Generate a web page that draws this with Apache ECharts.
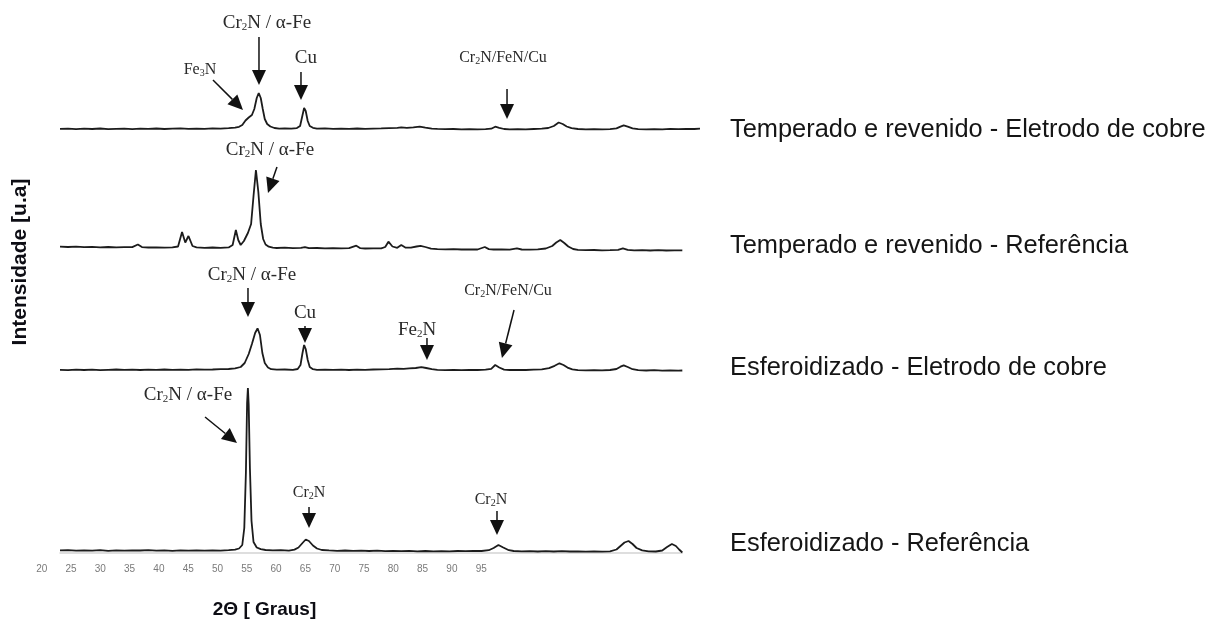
<!DOCTYPE html>
<html>
<head>
<meta charset="utf-8">
<script src="https://cdn.jsdelivr.net/npm/echarts@6/dist/echarts.min.js"></script>
<style>
html,body{margin:0;padding:0;background:#fff;}
#c{width:1215px;height:619px;}
</style>
</head>
<body>
<div id="c"></div>
<script>
// ---------------- DATA ----------------
const seriesNames = [
  'Temperado e revenido - Eletrodo de cobre',
  'Temperado e revenido - Referência',
  'Esferoidizado - Eletrodo de cobre',
  'Esferoidizado - Referência'
];
const xTickMin = 20, xTickMax = 95, xTickStep = 5;
const xTitle = '2Θ [ Graus]';
const yTitle = 'Intensidade [u.a]';

// [2θ (graus), intensidade (u.a.)]
const traceTempCobre = [[20,10.1],[21,10.4],[22,9.8],[23,10.3],[24,10.0],[25,10.5],[26,9.9],[27,10.2],[28,10.4],[29,9.9],[30,10.3],[31,10.1],[32,10.5],[33,10.0],[34,10.3],[35,10.6],[36,10.1],[37,10.4],[38,10.2],[39,10.6],[40,10.3],[41,10.8],[41.8,11.3],[42.3,12.2],[42.7,14],[43.1,18.5],[43.5,21.5],[43.9,24],[44.2,30],[44.5,41],[44.75,46],[45.0,41],[45.25,30],[45.5,20],[45.8,15],[46.2,12.5],[46.7,11],[47.3,10.4],[48,10.6],[48.8,10.3],[49.5,10.9],[49.9,13],[50.15,22],[50.4,31],[50.6,28],[50.85,18],[51.1,13],[51.5,11.2],[52,10.4],[53,10.6],[54,10.1],[55,10.4],[56,10.2],[57,10.5],[58,10.1],[59,10.4],[60,10.6],[61,10.9],[62,11.2],[62.5,11.6],[63.2,11.1],[64,11.6],[64.8,12.4],[65.5,11.4],[66.3,10.4],[67,10.1],[68,9.8],[69,10.0],[70,9.7],[71,9.9],[72,9.7],[73,9.9],[73.7,10.3],[74.2,12.3],[74.7,11.2],[75.3,10.0],[76,9.7],[77,9.9],[78,9.7],[79,10.0],[80,10.3],[80.8,11.0],[81.5,13],[82.1,16.5],[82.6,15],[83.1,12.5],[83.7,10.8],[84.5,10.0],[85.5,9.7],[86.5,9.9],[87.5,9.6],[88.5,9.9],[89.3,10.6],[89.8,12.4],[90.2,13.6],[90.7,12.4],[91.3,10.7],[92,9.9],[93,9.6],[94,9.9],[95,9.7],[96,10.1],[97,9.8],[98,10.2],[99,10.0],[99.7,10.3]];

const traceTempRef = [[20,11.3],[21,11.0],[22,11.4],[23,10.9],[24,11.1],[25,10.7],[26,11.0],[27,10.6],[28,10.8],[29,10.9],[29.7,13.5],[30.2,10.9],[31,10.5],[32,10.7],[33,10.3],[34,10.6],[34.7,11.5],[35.2,26],[35.6,15.5],[36.0,22],[36.5,12],[37,10.6],[38,10.2],[39,10.5],[40,10.1],[41,10.6],[41.5,13],[41.9,28],[42.2,18],[42.5,13],[42.9,17],[43.4,25],[43.8,34],[44.1,62],[44.4,88],[44.7,66],[45.0,34],[45.3,19],[45.6,13.5],[46.0,11.3],[46.5,10.4],[47,10.0],[48,10.3],[49,9.9],[50,10.1],[50.5,10.8],[51,9.8],[52,10.0],[53,9.7],[54,9.9],[55,9.6],[56,9.8],[56.9,12.3],[57.4,9.8],[58,9.5],[59,9.7],[60,9.6],[60.5,11],[60.9,16.3],[61.4,11.5],[62,10.2],[62.5,13],[63,10.5],[63.7,10.4],[64.4,11.5],[64.9,12.2],[65.5,11.0],[66.2,9.3],[67,8.8],[68,8.6],[69,8.8],[70,8.5],[71,8.7],[72,8.5],[72.9,11],[73.4,8.9],[74,8.5],[75,8.7],[76,8.4],[76.9,9.6],[77.5,8.5],[78.5,8.3],[79.5,8.6],[80.5,9.5],[81.3,12],[81.8,15.5],[82.3,18],[82.8,15],[83.3,11.5],[83.9,9.0],[84.5,8.1],[85.5,7.8],[86.5,8.0],[87.5,7.7],[88.5,7.9],[89.5,8.2],[90.1,9.6],[90.7,8.2],[91.5,7.6],[92.5,7.9],[93.5,7.5],[94.5,7.8],[95.5,7.5],[96.5,7.7],[97.5,7.6]];

const traceEsfCobre = [[20,10.2],[21,9.9],[22,10.3],[23,10.0],[24,10.4],[25,9.9],[26,10.2],[27,10.5],[28,10.1],[29,10.3],[30,10.0],[31,10.4],[32,10.2],[33,10.5],[34,10.1],[35,10.4],[36,10.2],[37,10.6],[38,10.3],[39,10.5],[40,10.8],[41,11.0],[41.8,11.6],[42.5,13],[43.0,17],[43.5,26],[43.9,36],[44.3,47],[44.6,51.7],[44.9,45],[45.2,27],[45.5,17],[45.9,12.5],[46.3,10.8],[47,10.3],[48,10.5],[49,10.2],[49.6,11],[49.95,15],[50.2,27],[50.4,35],[50.6,31],[50.85,20],[51.1,13],[51.5,10.8],[52,10.2],[53,10.4],[54,10.1],[55,10.3],[56,10.0],[57,10.4],[58,10.2],[59,10.5],[60,10.7],[61,10.9],[62,11.3],[62.8,11.1],[63.5,11.6],[64.3,12.0],[65.0,12.8],[65.6,12.0],[66.3,10.9],[67,10.2],[68,9.9],[69,10.1],[70,9.8],[71,10.2],[72,10.0],[73,10.3],[73.7,11.2],[74.2,15],[74.7,12.5],[75.3,10.4],[76,10.0],[77,10.2],[78,10.0],[79,10.4],[80,10.6],[80.9,11.8],[81.6,14.2],[82.2,16.7],[82.7,15],[83.2,12.4],[83.8,10.6],[84.5,9.9],[85.5,9.6],[86.5,9.9],[87.5,9.7],[88.5,10.0],[89.3,11],[89.8,13.3],[90.2,14.7],[90.7,13],[91.3,10.8],[92,9.8],[93,9.5],[94,9.8],[95,9.4],[96,9.7],[97,9.3],[97.5,9.5]];

const traceEsfRef = [[20,2.6],[21,2.9],[22,2.3],[23,2.7],[24,2.4],[25,2.8],[26,2.2],[27,2.6],[28,2.3],[29,2.7],[30,2.5],[31,2.8],[32,2.4],[33,2.6],[34,2.2],[35,2.6],[36,2.3],[37,2.7],[38,2.4],[39,2.6],[40,2.3],[41,2.8],[41.8,3.3],[42.3,4.5],[42.7,8],[42.95,25],[43.15,80],[43.3,150],[43.4,165],[43.5,148],[43.65,85],[43.85,32],[44.1,11],[44.5,5.5],[45,3.8],[45.6,3.0],[46.5,2.6],[47.5,2.8],[48.5,2.4],[49.2,3.4],[49.7,5.5],[50.2,10],[50.6,13.5],[51.0,12],[51.5,7.5],[52.0,4.5],[52.6,3.0],[53.5,2.6],[54.5,2.2],[55.5,2.5],[56.5,2.1],[57.5,2.4],[58.5,2.0],[59.5,2.3],[60.5,1.9],[61.5,2.2],[62.5,1.8],[63.5,2.1],[64.5,1.7],[65.5,2.0],[66.5,1.6],[67.5,1.9],[68.5,1.7],[69.5,2.0],[70.5,1.8],[71.5,2.1],[72.5,2.0],[73.4,2.8],[74.0,5],[74.6,8],[75.2,5.5],[75.9,2.8],[76.5,2.0],[77.5,1.6],[78.5,1.9],[79.5,1.5],[80.5,1.8],[81.5,1.5],[82.5,1.8],[83.5,1.5],[84.5,1.7],[85.5,1.4],[86.5,1.6],[87.5,1.3],[88.5,1.7],[89.3,3.5],[89.8,7],[90.3,10.5],[90.8,12],[91.3,9],[91.8,5],[92.5,2.6],[93.3,1.6],[94.2,1.5],[95,2.5],[95.6,6],[96.2,9],[96.7,7],[97.1,3.5],[97.5,0.5]];

const traces = [traceTempCobre, traceTempRef, traceEsfCobre, traceEsfRef];

// Peak annotations (text + arrows), in each panel's data coordinates
const annotations = [
  {panel:0, text:'Cr_2N / α-Fe', at:[45.78,116], from:[44.78,102], to:[44.78,54], big:true},
  {panel:0, text:'Cu', at:[50.63,81], from:[50.01,67], to:[50.01,39], big:true},
  {panel:0, text:'Fe_3N', at:[37.43,69], from:[39.05,59], to:[42.79,29], big:false},
  {panel:0, text:'Cr_2N/FeN/Cu', at:[75.17,81], from:[75.67,50], to:[75.67,20], big:false},
  {panel:1, text:'Cr_2N / α-Fe', at:[46.15,108], from:[47.02,91], to:[45.90,65], big:true},
  {panel:2, text:'Cr_2N / α-Fe', at:[43.91,105], from:[43.41,92], to:[43.41,63], big:true},
  {panel:2, text:'Cu', at:[50.51,67], from:[50.51,54], to:[50.51,37], big:true},
  {panel:2, text:'Fe_2N', at:[64.46,50], from:[65.70,42], to:[65.70,20], big:true},
  {panel:2, text:'Cr_2N/FeN/Cu', at:[75.79,89], from:[76.54,70], to:[75.04,22], big:false},
  {panel:3, text:'Cr_2N / α-Fe', at:[35.94,158], from:[38.06,136], to:[42.04,110], big:true},
  {panel:3, text:'Cr_2N', at:[51.01,60], from:[51.01,46], to:[51.01,25], big:false},
  {panel:3, text:'Cr_2N', at:[73.67,53], from:[74.42,42], to:[74.42,18], big:false}
];

// ---------------- LAYOUT ----------------
const PLOT_LEFT = 60, PX_PER_DEG = 8.03;
const panels = [
  {zero:139, ymax:130, xmax:100},
  {zero:258, ymax:120, xmax:97.5},
  {zero:380, ymax:110, xmax:97.5},
  {zero:553, ymax:170, xmax:97.5}
];
const labelY = [130, 246, 368, 544];

const chart = echarts.init(document.getElementById('c'), null, {renderer:'canvas'});

const grids = panels.map(p => ({left:PLOT_LEFT, top:p.zero - p.ymax, width:(p.xmax - 20) * PX_PER_DEG, height:p.ymax, containLabel:false}));
grids.push({left:41.7, top:559, width:439.5, height:1, containLabel:false});

const xAxes = panels.map((p, i) => ({
  gridIndex:i, type:'value', min:20, max:p.xmax,
  show: i === 3,
  axisLine:{show: i === 3, lineStyle:{color:'#d4d4d4', width:1.5}},
  axisTick:{show:false}, axisLabel:{show:false}, splitLine:{show:false}
}));
xAxes.push({
  gridIndex:4, type:'value', min:xTickMin, max:xTickMax, interval:xTickStep,
  axisLine:{show:false}, axisTick:{show:false}, splitLine:{show:false},
  axisLabel:{color:'#7a7a7a', fontSize:10, margin:4, fontFamily:"'Liberation Sans Narrow','Liberation Sans',sans-serif"}
});
const yAxes = panels.map((p, i) => ({gridIndex:i, type:'value', min:0, max:p.ymax, show:false}));
yAxes.push({gridIndex:4, type:'value', min:0, max:1, show:false});

const series = traces.map((d, i) => ({
  name: seriesNames[i], type:'line', xAxisIndex:i, yAxisIndex:i, data:d,
  showSymbol:false, symbol:'none', silent:true, smooth:false,
  lineStyle:{color:'#1c1c1c', width:1.8}
}));

chart.setOption({animation:false, grid:grids, xAxis:xAxes, yAxis:yAxes, series:series});

// ---------------- ANNOTATIONS ----------------
function richText(s){ return '{n|' + s.replace(/_(\d)/g, '}{s|$1}{n|') + '}'; }
const graphics = [];
annotations.forEach(a => {
  const fs = a.big ? 19 : 16;
  const t = chart.convertToPixel({gridIndex:a.panel}, a.at);
  const p0 = chart.convertToPixel({gridIndex:a.panel}, a.from);
  const p1 = chart.convertToPixel({gridIndex:a.panel}, a.to);
  graphics.push({type:'text', x:t[0], y:t[1], silent:true, style:{
    text: richText(a.text), align:'center', verticalAlign:'middle', fill:'#2a2a2a',
    rich:{
      n:{fontSize:fs, fontFamily:'Liberation Serif', fill:'#2a2a2a'},
      s:{fontSize:Math.round(fs*0.6), fontFamily:'Liberation Serif', fill:'#2a2a2a', verticalAlign:'bottom'}
    }
  }});
  const dx = p1[0]-p0[0], dy = p1[1]-p0[1], len = Math.hypot(dx, dy);
  const ux = dx/len, uy = dy/len, HL = 15, HW = 14;
  const bx = p1[0]-ux*HL, by = p1[1]-uy*HL, nx = -uy, ny = ux;
  graphics.push({type:'line', silent:true, shape:{x1:p0[0], y1:p0[1], x2:bx, y2:by}, style:{stroke:'#111', lineWidth:1.5}});
  graphics.push({type:'polygon', silent:true, shape:{points:[[p1[0],p1[1]],[bx+nx*HW/2, by+ny*HW/2],[bx-nx*HW/2, by-ny*HW/2]]}, style:{fill:'#111'}});
});
seriesNames.forEach((n, i) => {
  graphics.push({type:'text', x:730, y:labelY[i], silent:true, style:{text:n, fontSize:25.4, fontFamily:'Liberation Sans', fill:'#151515', align:'left', verticalAlign:'middle'}});
});
graphics.push({type:'text', x:20, y:262, rotation:Math.PI/2, silent:true, style:{text:yTitle, fontSize:21, fontWeight:'bold', fontFamily:'Liberation Sans', fill:'#0d0d14', align:'center', verticalAlign:'middle'}});
graphics.push({type:'text', x:264.5, y:610, silent:true, style:{text:xTitle, fontSize:19, fontWeight:'bold', fontFamily:'Liberation Sans', fill:'#0d0d14', align:'center', verticalAlign:'middle'}});
chart.setOption({graphic:graphics});
</script>
</body>
</html>
